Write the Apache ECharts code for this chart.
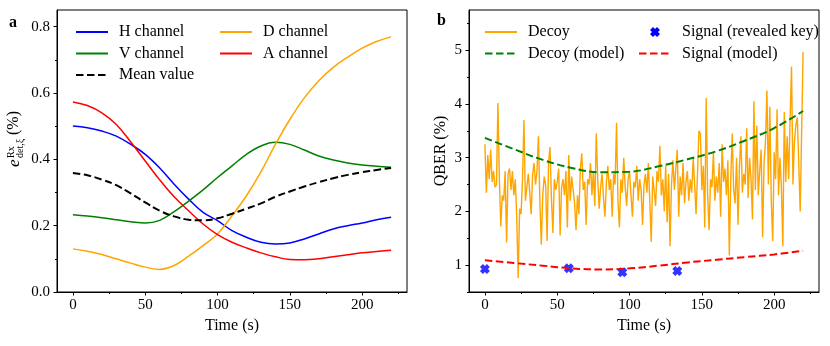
<!DOCTYPE html>
<html>
<head>
<meta charset="utf-8">
<script src="https://cdn.jsdelivr.net/npm/echarts@6/dist/echarts.min.js"></script>
<style>
  html, body { margin: 0; padding: 0; background: #fff; }
  #chart { width: 830px; height: 346px; }
</style>
</head>
<body>
<div id="chart"></div>
<script>
// panel a: detector error per channel
var tLeft = [0, 10, 20, 30, 40, 50, 60, 70, 80, 90, 100, 110, 120, 130, 140, 150, 160, 170, 180, 190, 200, 210, 220];
var hChannel = [0.500, 0.495, 0.485, 0.470, 0.445, 0.415, 0.374, 0.325, 0.280, 0.240, 0.215, 0.185, 0.165, 0.150, 0.145, 0.148, 0.160, 0.175, 0.190, 0.200, 0.208, 0.218, 0.225];
var vChannel = [0.233, 0.229, 0.224, 0.218, 0.212, 0.208, 0.216, 0.242, 0.274, 0.308, 0.345, 0.380, 0.415, 0.440, 0.451, 0.445, 0.428, 0.410, 0.398, 0.389, 0.383, 0.379, 0.376];
var dChannel = [0.130, 0.123, 0.113, 0.100, 0.087, 0.075, 0.068, 0.080, 0.108, 0.140, 0.175, 0.230, 0.290, 0.362, 0.445, 0.520, 0.585, 0.637, 0.677, 0.708, 0.735, 0.755, 0.769];
var aChannel = [0.573, 0.562, 0.540, 0.505, 0.452, 0.395, 0.338, 0.287, 0.245, 0.205, 0.173, 0.150, 0.133, 0.118, 0.106, 0.098, 0.097, 0.100, 0.106, 0.112, 0.118, 0.122, 0.126];
var meanValue = [0.359, 0.352, 0.339, 0.322, 0.297, 0.270, 0.245, 0.228, 0.218, 0.216, 0.222, 0.236, 0.251, 0.267, 0.287, 0.303, 0.318, 0.331, 0.343, 0.353, 0.361, 0.368, 0.374];

// panel b: QBER, one decoy value per second from t = 0
var decoy = [
  3.25, 2.35, 3.05, 2.60, 3.15, 2.55, 2.75, 2.45, 2.50, 4.02,
  2.60, 1.72, 2.30, 2.20, 2.75, 1.42, 2.70, 2.80, 2.40, 2.75,
  2.30, 2.60, 1.90, 0.76, 2.05, 1.95, 2.60, 3.70, 2.20, 2.45,
  2.70, 2.35, 1.95, 2.70, 2.90, 2.50, 2.75, 3.40, 2.20, 1.38,
  2.30, 2.65, 2.50, 1.45, 2.90, 3.20, 2.25, 1.60, 2.60, 2.40,
  2.55, 2.80, 1.55, 2.45, 2.60, 2.30, 2.75, 1.70, 3.05, 2.20,
  2.65, 2.40, 2.15, 1.65, 2.30, 1.95, 2.80, 3.08, 2.40, 2.55,
  1.75, 2.60, 2.50, 2.90, 2.30, 2.75, 2.10, 3.45, 2.60, 2.05,
  2.45, 2.70, 2.25, 1.90, 2.55, 2.85, 2.40, 2.60, 1.90, 2.70,
  2.50, 3.65, 2.20, 1.70, 2.60, 2.35, 3.00, 2.45, 2.10, 2.60,
  2.75, 2.30, 1.90, 2.55, 2.45, 2.85, 2.20, 2.60, 2.40, 1.75,
  2.50, 2.70, 2.35, 2.90, 2.20, 1.43, 2.65, 2.40, 2.10, 2.75,
  2.55, 3.22, 2.30, 2.60, 2.00, 2.85, 1.80, 2.70, 1.35, 2.50,
  2.95, 2.40, 2.80, 3.15, 1.90, 2.65, 2.30, 2.90, 2.15, 2.55,
  2.75, 2.20, 2.60, 2.35, 3.00, 2.50, 1.95, 2.70, 3.50, 3.45,
  2.40, 2.85, 1.70, 4.11, 2.30, 1.65, 2.60, 2.45, 3.10, 2.20,
  2.65, 2.35, 2.90, 1.90, 3.25, 2.55, 2.80, 2.30, 2.95, 1.18,
  2.60, 3.45, 2.40, 2.15, 3.00, 1.75, 2.85, 3.40, 2.35, 2.70,
  2.50, 3.55, 2.25, 3.00, 2.60, 1.85, 4.05, 2.40, 3.60, 2.30,
  2.75, 3.15, 1.52, 2.90, 3.30, 4.25, 2.50, 3.95, 2.20, 1.45,
  3.10, 2.60, 3.90, 2.30, 3.00, 2.45, 1.35, 3.85, 2.55, 3.40,
  2.60, 3.70, 4.70, 2.50, 3.30, 3.60, 3.75, 2.90, 2.00, 2.00,
  4.97
];
var tModel = [0, 20, 40, 60, 80, 100, 120, 140, 160, 180, 200, 220];
var decoyModel = [3.37, 3.16, 2.96, 2.81, 2.73, 2.74, 2.84, 2.97, 3.12, 3.32, 3.55, 3.87];
var signalModel = [1.09, 1.04, 0.99, 0.94, 0.92, 0.94, 0.99, 1.05, 1.10, 1.15, 1.20, 1.27];
var signalT = [0, 58, 95, 133];
var signalV = [0.93, 0.94, 0.87, 0.89];

var xTicks = [0, 50, 100, 150, 200];
var xMinor = [25, 75, 125, 175, 225];
var yTicksA = [0, 0.2, 0.4, 0.6, 0.8];
var yMinorA = [0.1, 0.3, 0.5, 0.7];
var yTicksB = [1, 2, 3, 4, 5];
var yMinorB = [0.5, 1.5, 2.5, 3.5, 4.5, 5.5];

var FONT = 'Liberation Serif';
var xMarker = 'path://M0,3 L3,0 L5,2 L7,0 L10,3 L8,5 L10,7 L7,10 L5,8 L3,10 L0,7 L2,5 Z';

function pairs (xs, ys) {
  return ys.map(function (v, i) { return [xs[i], v]; });
}

function mainX (grid) {
  return {
    type: 'value', gridIndex: grid, position: 'bottom', min: -11, max: 231,
    name: 'Time (s)', nameLocation: 'middle', nameGap: 24,
    nameTextStyle: { fontFamily: FONT, fontSize: 16, color: '#000' },
    axisLine: { onZero: false, lineStyle: { color: '#000', width: 1 } },
    axisTick: { customValues: xTicks, length: 3.5, lineStyle: { color: '#000' } },
    axisLabel: { customValues: xTicks, margin: 6, fontFamily: FONT, fontSize: 15, color: '#000' },
    splitLine: { show: false }
  };
}
function minorX (grid) {
  return {
    type: 'value', gridIndex: grid, position: 'bottom', min: -11, max: 231,
    axisLine: { show: false, onZero: false },
    axisTick: { customValues: xMinor, length: 2, lineStyle: { color: '#000' } },
    axisLabel: { show: false },
    splitLine: { show: false }
  };
}
function mainY (grid, min, max, ticks, fmt) {
  return {
    type: 'value', gridIndex: grid, position: 'left', min: min, max: max,
    axisLine: { show: true, onZero: false, lineStyle: { color: '#000', width: 1 } },
    axisTick: { show: true, customValues: ticks, length: 3.5, lineStyle: { color: '#000' } },
    axisLabel: { customValues: ticks, margin: 7, fontFamily: FONT, fontSize: 15, color: '#000', formatter: fmt },
    splitLine: { show: false }
  };
}
function minorY (grid, min, max, ticks) {
  return {
    type: 'value', gridIndex: grid, position: 'left', min: min, max: max,
    axisLine: { show: false, onZero: false },
    axisTick: { show: true, customValues: ticks, length: 2, lineStyle: { color: '#000' } },
    axisLabel: { show: false },
    splitLine: { show: false }
  };
}
function lineSeries (name, xi, yi, data, color, dashed) {
  return {
    name: name, type: 'line', xAxisIndex: xi, yAxisIndex: yi,
    data: data, smooth: 0.4, symbol: 'none',
    lineStyle: { color: color, width: dashed ? 2 : 1.5, type: dashed ? [7.5, 3.5] : 'solid' },
    itemStyle: { color: color }
  };
}
function legendCol (left, top, names) {
  return {
    orient: 'vertical', left: left, top: top, data: names,
    padding: 0, itemWidth: 32, itemHeight: 10, itemGap: 5.5,
    selectedMode: false,
    itemStyle: { opacity: 0 },
    textStyle: { fontFamily: FONT, fontSize: 16, color: '#000', lineHeight: 16, padding: [0, 0, 0, 6] }
  };
}

var myChart = echarts.init(document.getElementById('chart'), null, { renderer: 'canvas' });

// marker legend keeps its symbol, the dashed one hides it
var signalLegend = legendCol(638, 24, [
  { name: 'Signal (revealed key)', itemStyle: { opacity: 1 } },
  'Signal (model)'
]);

var option = {
  backgroundColor: '#fff',
  animation: false,
  grid: [
    { left: 57, top: 10, width: 350, height: 282, show: true, borderColor: '#000', borderWidth: 1 },
    { left: 469, top: 10, width: 350, height: 282, show: true, borderColor: '#000', borderWidth: 1 }
  ],
  xAxis: [mainX(0), minorX(0), mainX(1), minorX(1)],
  yAxis: [
    mainY(0, 0, 0.85, yTicksA, function (v) { return v.toFixed(1); }),
    minorY(0, 0, 0.85, yMinorA),
    Object.assign(mainY(1, 0.5, 5.75, yTicksB, function (v) { return String(v); }), {
      name: 'QBER (%)', nameLocation: 'middle', nameRotate: 90, nameGap: 20,
      nameTextStyle: { fontFamily: FONT, fontSize: 16, color: '#000' }
    }),
    minorY(1, 0.5, 5.75, yMinorB)
  ],
  legend: [
    legendCol(75, 24, ['H channel', 'V channel', 'Mean value']),
    legendCol(219, 24, ['D channel', 'A channel']),
    legendCol(484, 24, ['Decoy', 'Decoy (model)']),
    signalLegend
  ],
  graphic: [
    { type: 'text', left: 9, top: 15, style: { text: 'a', fontFamily: FONT, fontSize: 16, fontWeight: 'bold', fill: '#000' } },
    { type: 'text', left: 437, top: 13, style: { text: 'b', fontFamily: FONT, fontSize: 16, fontWeight: 'bold', fill: '#000' } },
    {
      type: 'group', x: 14, y: 151, rotation: Math.PI / 2,
      children: [
        { type: 'text', x: -16, y: 1, style: { text: 'e', fontFamily: FONT, fontStyle: 'italic', fontSize: 17, fill: '#000', verticalAlign: 'middle', align: 'left' } },
        { type: 'text', x: -7, y: -3, style: { text: 'Rx', fontFamily: FONT, fontSize: 10, fill: '#000', verticalAlign: 'middle', align: 'left' } },
        { type: 'text', x: -7, y: 6, style: { text: 'det,ξ', fontFamily: FONT, fontSize: 10, fill: '#000', verticalAlign: 'middle', align: 'left' } },
        { type: 'text', x: 16, y: 0, style: { text: '(%)', fontFamily: FONT, fontSize: 16, fill: '#000', verticalAlign: 'middle', align: 'left' } }
      ]
    }
  ],
  series: [
    lineSeries('H channel', 0, 0, pairs(tLeft, hChannel), '#0000ff', false),
    lineSeries('V channel', 0, 0, pairs(tLeft, vChannel), '#008000', false),
    lineSeries('D channel', 0, 0, pairs(tLeft, dChannel), '#ffa500', false),
    lineSeries('A channel', 0, 0, pairs(tLeft, aChannel), '#ff0000', false),
    lineSeries('Mean value', 0, 0, pairs(tLeft, meanValue), '#000000', true),
    {
      name: 'Decoy', type: 'line', xAxisIndex: 2, yAxisIndex: 2,
      data: decoy.map(function (v, i) { return [i, v]; }),
      symbol: 'none', lineStyle: { color: '#ffa500', width: 1.4 }, itemStyle: { color: '#ffa500' }
    },
    lineSeries('Decoy (model)', 2, 2, pairs(tModel, decoyModel), '#008000', true),
    {
      name: 'Signal (revealed key)', type: 'scatter', xAxisIndex: 2, yAxisIndex: 2,
      data: pairs(signalT, signalV), symbol: xMarker, symbolSize: 10,
      itemStyle: { color: '#0000ff' }
    },
    lineSeries('Signal (model)', 2, 2, pairs(tModel, signalModel), '#ff0000', true)
  ]
};
myChart.setOption(option);
</script>
</body>
</html>
